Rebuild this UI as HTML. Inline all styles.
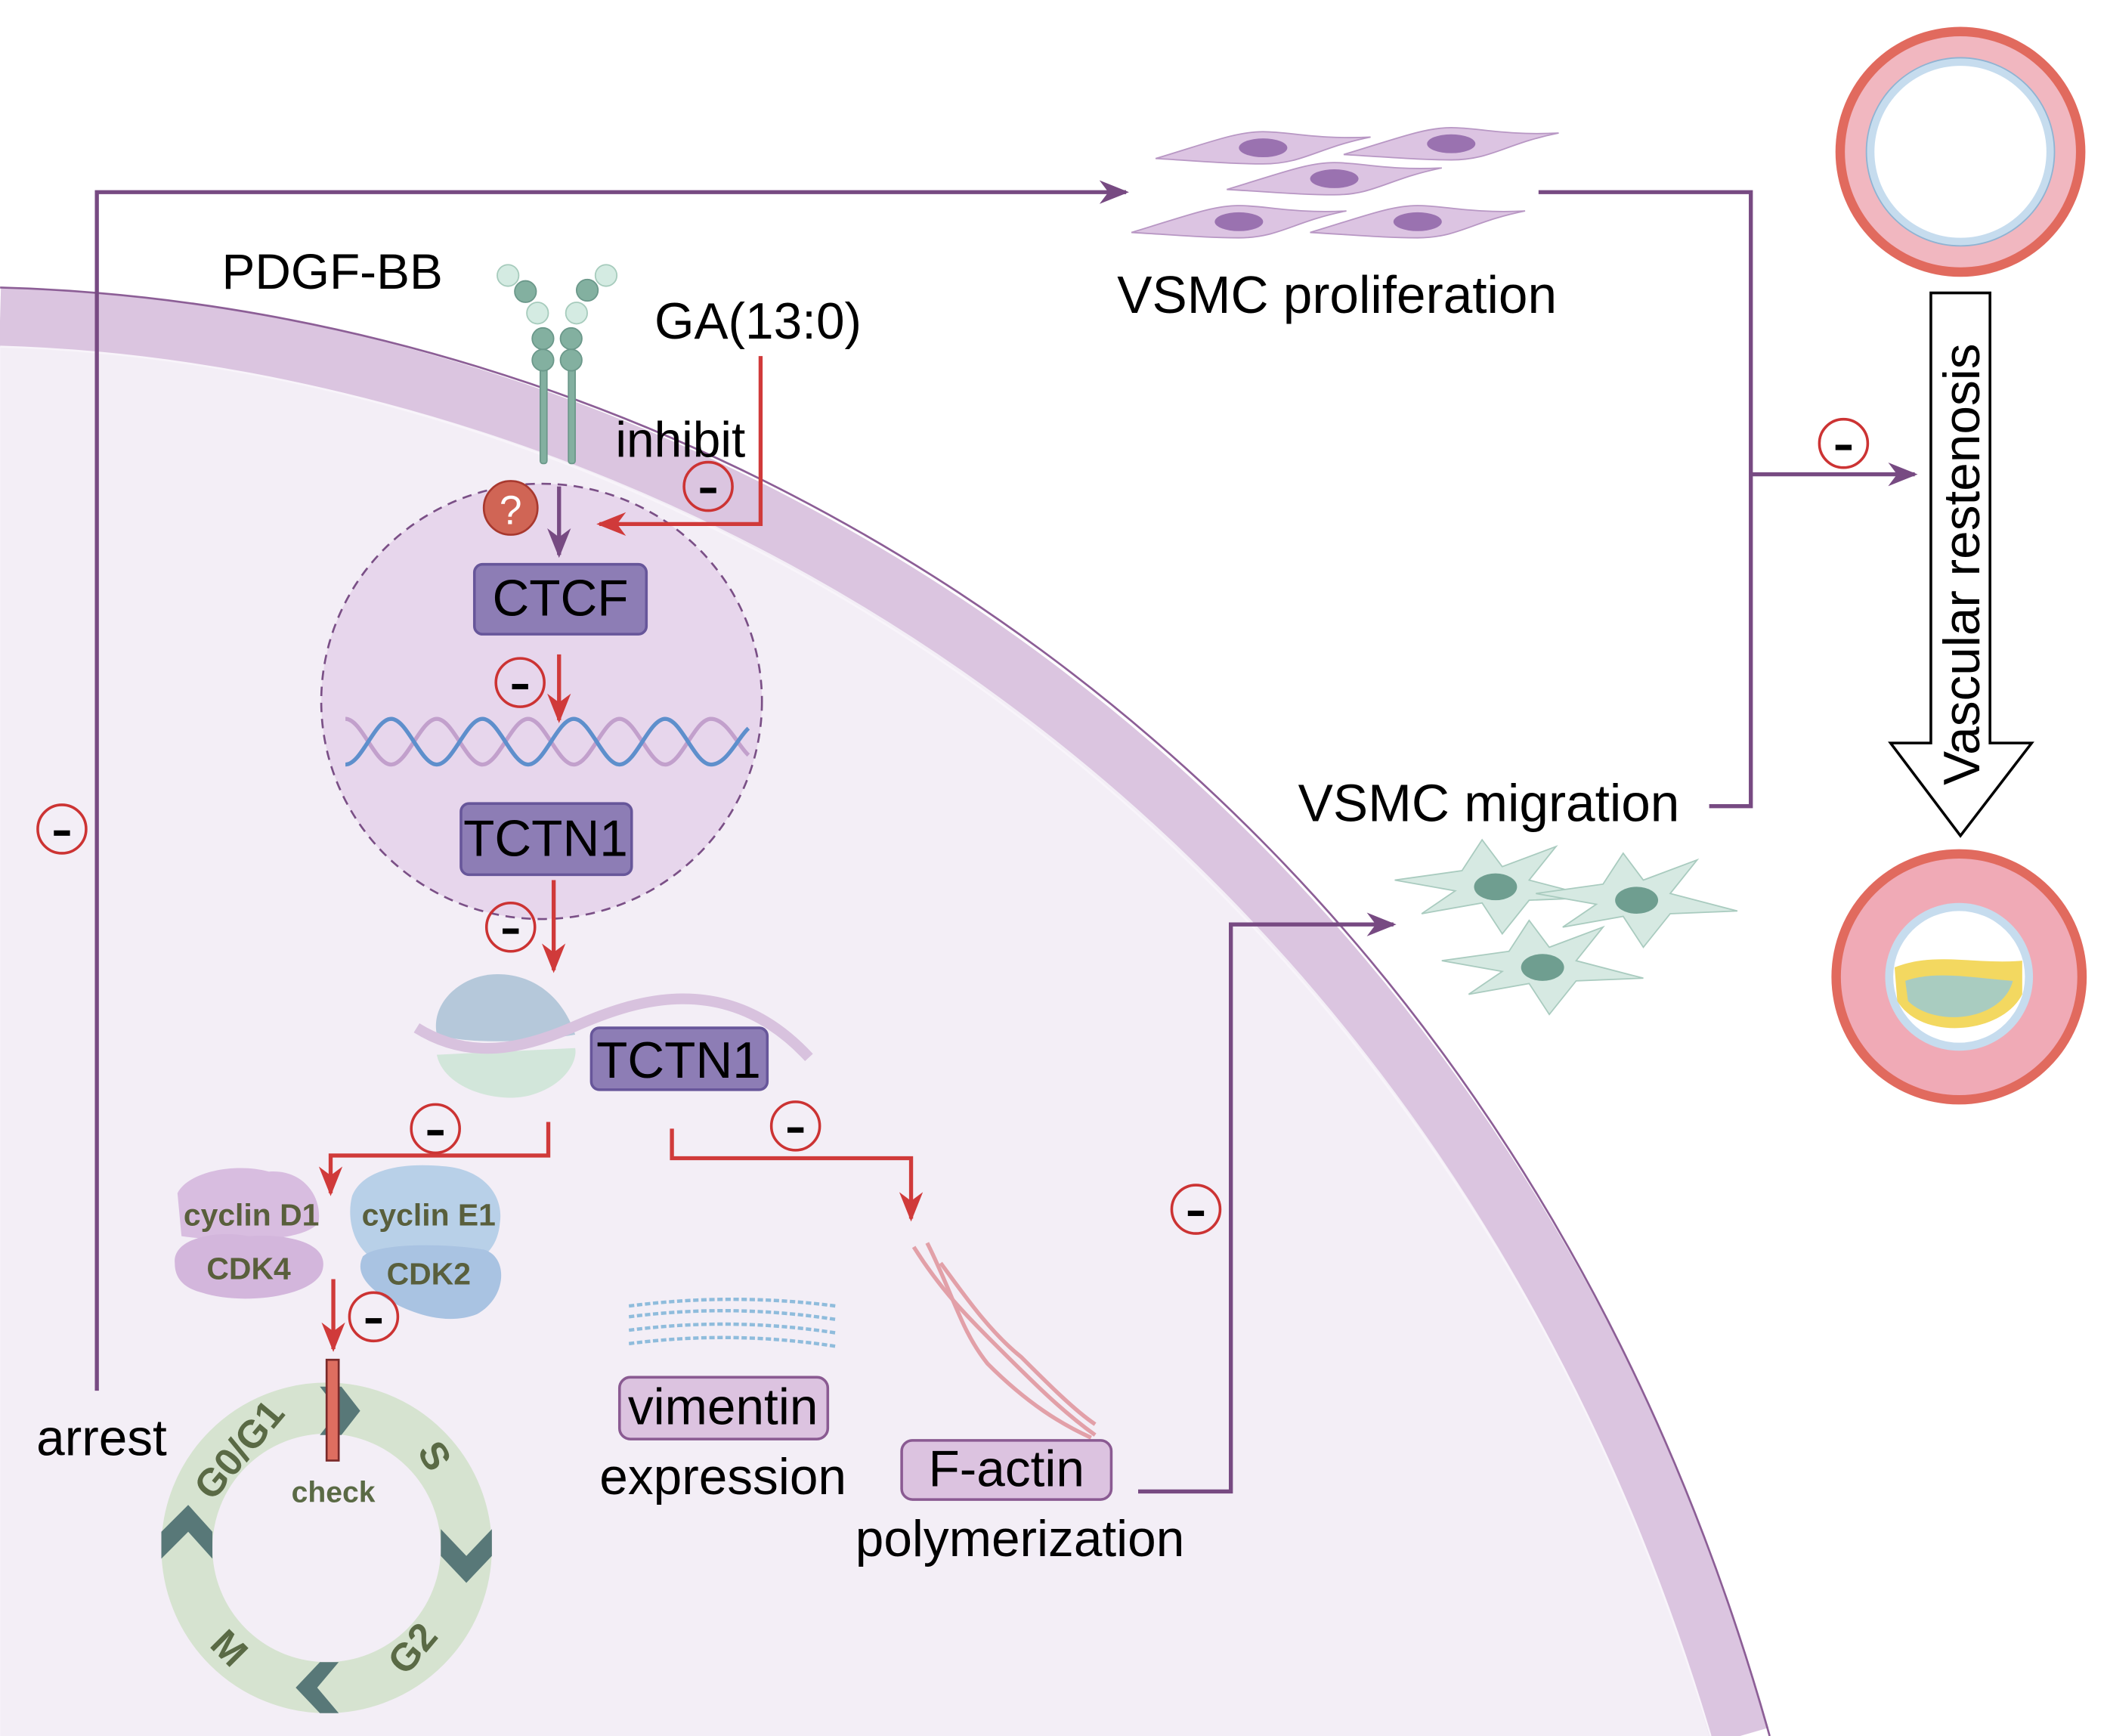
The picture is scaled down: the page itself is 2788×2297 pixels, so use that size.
<!DOCTYPE html>
<html><head><meta charset="utf-8"><style>
html,body{margin:0;padding:0;background:#fff}
svg{display:block}
text{font-family:"Liberation Sans",sans-serif}
</style></head><body>
<svg width="2788" height="2297" viewBox="0 0 1568 1292" xmlns="http://www.w3.org/2000/svg">
<defs>
<marker id="apb" viewBox="0 0 10 10" refX="9" refY="5" markerWidth="22" markerHeight="22" markerUnits="userSpaceOnUse" orient="auto"><path d="M0,1 L10,5 L0,9 L3,5 Z" fill="#774a82"/></marker>
<marker id="ar" viewBox="0 0 10 10" refX="9" refY="5" markerWidth="22" markerHeight="22" markerUnits="userSpaceOnUse" orient="auto"><path d="M0,1 L10,5 L0,9 L3,5 Z" fill="#d03a3a"/></marker>
<g id="mn"><circle r="18" fill="none" stroke="#cc3333" stroke-width="2"/><rect x="-6" y="1" width="12" height="4" fill="#000"/></g>
<g id="spindle"><path d="M-80,8 C-40,-4 -20,-12 0,-12 C20,-12 40,-6 80,-8 C40,0 30,12 0,12 C-25,12 -45,10 -80,8 Z" fill="#dcc4e2" stroke="#b897c4" stroke-width="1"/><ellipse cx="0" cy="0" rx="18" ry="7" fill="#9a72b0"/></g>
<g id="star"><path d="M-75,-5 L-25,-12 L-10,-35 L5,-15 L45,-30 L25,-5 L75,8 L25,10 L5,35 L-10,12 L-55,20 L-30,3 Z" fill="#d6e9e2" stroke="#a9cbbf" stroke-width="1"/><ellipse cx="0" cy="0" rx="16" ry="10" fill="#6f9e90"/></g>
</defs>
<rect width="1568" height="1292" fill="#fff"/>
<path d="M0,236 C500,250 1090,580 1295,1292 L0,1292 Z" fill="#f3eef6"/>
<path d="M0,236 C500,250 1090,580 1295,1292" fill="none" stroke="#dbc5e0" stroke-width="44"/>
<path d="M0,214 C515,228 1112,560 1317,1292" fill="none" stroke="#8c5e96" stroke-width="1.5"/>
<path d="M0,258 C485,272 1068,600 1273,1292" fill="none" stroke="#f8f4fa" stroke-width="1.5"/>

<polyline points="72,1035 72,143 838,143" fill="none" stroke="#774a82" stroke-width="3" marker-end="url(#apb)"/>
<text x="27" y="1083" font-size="38">arrest</text>
<use href="#mn" x="46" y="617"/>

<ellipse cx="403" cy="522" rx="164" ry="162" fill="#e7d6ec" stroke="#7a4f86" stroke-width="1.5" stroke-dasharray="7,5"/>

<text x="165" y="215" font-size="37">PDGF-BB</text>
<text x="487" y="252" font-size="38">GA(13:0)</text>
<text x="458" y="340" font-size="37">inhibit</text>

<g fill="#83b0a0" stroke="#6b988a" stroke-width="1">
<rect x="402" y="270" width="5" height="75" rx="2"/><rect x="423" y="270" width="5" height="75" rx="2"/>
<circle cx="404" cy="268" r="8"/><circle cx="404" cy="252" r="8"/><circle cx="425" cy="268" r="8"/><circle cx="425" cy="252" r="8"/>
<circle cx="391" cy="217" r="8"/><circle cx="437" cy="216" r="8"/>
</g>
<g fill="#d4ebe2" stroke="#a6cbbc" stroke-width="1">
<circle cx="400" cy="233" r="8"/><circle cx="429" cy="233" r="8"/><circle cx="378" cy="205" r="8"/><circle cx="451" cy="205" r="8"/>
</g>

<polyline points="566,265 566,390 446,390" fill="none" stroke="#d03a3a" stroke-width="3" marker-end="url(#ar)"/>
<use href="#mn" x="527" y="362"/>
<line x1="416" y1="362" x2="416" y2="413" stroke="#774a82" stroke-width="3" marker-end="url(#apb)"/>
<circle cx="380" cy="378" r="20" fill="#d06555" stroke="#a8382e" stroke-width="1.5"/>
<text x="380" y="390" font-size="30" fill="#fff" text-anchor="middle">?</text>

<rect x="353" y="420" width="128" height="52" rx="6" fill="#8d7db5" stroke="#67569a" stroke-width="2"/>
<text x="417" y="458" font-size="38" text-anchor="middle">CTCF</text>
<line x1="416" y1="487" x2="416" y2="536" stroke="#d03a3a" stroke-width="3" marker-end="url(#ar)"/>
<use href="#mn" x="387" y="508"/>

<g fill="none" stroke-width="3">
<path d="M257,535 C269,535 279,569 291,569 C303,569 313,535 325,535 C337,535 347,569 359,569 C371,569 381,535 393,535 C405,535 415,569 427,569 C439,569 449,535 461,535 C473,535 483,569 495,569 C507,569 517,535 529,535 C541,535 549,555 557,562" stroke="#c2a0cc"/>
<path d="M257,569 C269,569 279,535 291,535 C303,535 313,569 325,569 C337,569 347,535 359,535 C371,535 381,569 393,569 C405,569 415,535 427,535 C439,535 449,569 461,569 C473,569 483,535 495,535 C507,535 517,569 529,569 C541,569 549,549 557,542" stroke="#5e8fcc"/>
</g>
<rect x="343" y="598" width="127" height="53" rx="6" fill="#8d7db5" stroke="#67569a" stroke-width="2"/>
<text x="406" y="637" font-size="38" text-anchor="middle">TCTN1</text>
<line x1="412" y1="655" x2="412" y2="722" stroke="#d03a3a" stroke-width="3" marker-end="url(#ar)"/>
<use href="#mn" x="380" y="690"/>

<path d="M325,785 C330,810 370,822 395,815 C420,808 430,790 428,780 Z" fill="#d2e6da"/>
<path d="M325,770 C320,745 345,725 370,725 C400,725 420,745 428,770 C400,775 350,778 325,770 Z" fill="#b5c8da"/>
<path d="M310,765 C350,790 390,780 425,765 C470,745 540,720 602,787" fill="none" stroke="#d8c2de" stroke-width="8"/>
<rect x="440" y="765" width="131" height="46" rx="6" fill="#8d7db5" stroke="#67569a" stroke-width="2"/>
<text x="505" y="802" font-size="38" text-anchor="middle">TCTN1</text>

<polyline points="408,835 408,860 246,860 246,888" fill="none" stroke="#d03a3a" stroke-width="3" marker-end="url(#ar)"/>
<use href="#mn" x="324" y="840"/>
<polyline points="500,840 500,862 678,862 678,907" fill="none" stroke="#d03a3a" stroke-width="3" marker-end="url(#ar)"/>
<use href="#mn" x="592" y="838"/>

<path d="M132,888 C140,872 175,865 200,872 C225,870 240,890 237,910 C225,925 170,925 135,920 Z" fill="#d8bde0"/>
<path d="M130,940 C128,922 160,915 185,920 C215,918 245,925 240,945 C235,965 180,972 150,962 C135,958 130,950 130,940 Z" fill="#d3b6dc"/>
<path d="M262,890 C270,870 300,865 330,868 C360,870 375,890 372,910 C370,935 350,945 330,940 L275,935 C262,925 258,905 262,890 Z" fill="#b8d0e8"/>
<path d="M270,935 C280,925 330,925 360,930 C378,935 378,965 355,978 C330,988 300,975 285,965 C270,955 265,945 270,935 Z" fill="#a9c3e2"/>
<g font-size="23" font-weight="bold" fill="#595f3c" text-anchor="middle">
<text x="187" y="912">cyclin D1</text><text x="185" y="952">CDK4</text>
<text x="319" y="912">cyclin E1</text><text x="319" y="956">CDK2</text>
</g>
<line x1="248" y1="952" x2="248" y2="1004" stroke="#d03a3a" stroke-width="3" marker-end="url(#ar)"/>
<use href="#mn" x="278" y="980"/>

<circle cx="243" cy="1152" r="104" fill="none" stroke="#d6e3d0" stroke-width="38"/>
<g fill="#587878">
<path d="M238,1032 L254,1032 L268,1050 L254,1068 L238,1068 L252,1050 Z"/>
<path d="M328,1138 L347,1158 L366,1138 L366,1158 L347,1178 L328,1158 Z"/>
<path d="M120,1140 L140,1120 L158,1140 L158,1160 L140,1140 L120,1160 Z"/>
<path d="M238,1237 L252,1237 L236,1256 L252,1275 L238,1275 L220,1256 Z"/>
</g>
<rect x="243" y="1012" width="9" height="75" fill="#de6e60" stroke="#7a2a2a" stroke-width="1.5"/>
<g font-weight="bold" fill="#5a6a45">
<text x="248" y="1118" font-size="22" text-anchor="middle">check</text>
<text x="0" y="0" font-size="29" transform="translate(158,1118) rotate(-50)">G0/G1</text>
<text x="0" y="0" font-size="29" transform="translate(310,1080) rotate(60)">S</text>
<text x="0" y="0" font-size="29" transform="translate(302,1248) rotate(-50)">G2</text>
<text x="0" y="0" font-size="29" transform="translate(155,1225) rotate(45)">M</text>
</g>

<g fill="none" stroke="#8fbcdc" stroke-width="2.5" stroke-dasharray="4,2">
<path d="M468,972 Q545,962 622,972"/><path d="M468,980 Q545,970 622,982"/><path d="M468,990 Q545,980 622,992"/><path d="M468,1000 Q545,990 622,1002"/>
</g>
<rect x="461" y="1025" width="155" height="46" rx="8" fill="#dcc3e0" stroke="#8a5a92" stroke-width="2"/>
<text x="538" y="1060" font-size="38" text-anchor="middle">vimentin</text>
<text x="538" y="1112" font-size="38" text-anchor="middle">expression</text>

<g fill="none" stroke="#e2a0a8" stroke-width="3">
<path d="M680,928 C700,960 720,980 740,1000 C770,1030 790,1050 815,1068"/>
<path d="M690,925 C710,965 715,990 735,1015 C765,1045 790,1060 812,1070"/>
<path d="M700,940 C715,960 735,990 760,1010 C780,1030 800,1050 815,1060"/>
</g>
<rect x="671" y="1072" width="156" height="44" rx="8" fill="#dcc3e0" stroke="#8a5a92" stroke-width="2"/>
<text x="749" y="1106" font-size="38" text-anchor="middle">F-actin</text>
<text x="759" y="1158" font-size="38" text-anchor="middle">polymerization</text>

<polyline points="847,1110 916,1110 916,688 1037,688" fill="none" stroke="#774a82" stroke-width="3" marker-end="url(#apb)"/>
<use href="#mn" x="890" y="900"/>

<use href="#spindle" x="940" y="110"/><use href="#spindle" x="1080" y="107"/><use href="#spindle" x="993" y="133"/>
<use href="#spindle" x="922" y="165"/><use href="#spindle" x="1055" y="165"/>
<text x="995" y="233" font-size="39" text-anchor="middle">VSMC proliferation</text>
<use href="#star" x="1113" y="660"/><use href="#star" x="1218" y="670"/><use href="#star" x="1148" y="720"/>
<text x="1108" y="611" font-size="39" text-anchor="middle">VSMC migration</text>

<polyline points="1145,143 1303,143 1303,600 1272,600" fill="none" stroke="#774a82" stroke-width="3"/>
<line x1="1303" y1="353" x2="1425" y2="353" stroke="#774a82" stroke-width="3" marker-end="url(#apb)"/>
<use href="#mn" x="1372" y="330"/>

<circle cx="1459" cy="113" r="93" fill="#e16a5e"/>
<circle cx="1459" cy="113" r="86" fill="#f1b7c0"/>
<circle cx="1459" cy="113" r="70" fill="#c6dcee" stroke="#8fb3d2" stroke-width="1"/>
<circle cx="1459" cy="113" r="64" fill="#fff"/>
<circle cx="1458" cy="727" r="95" fill="#e16a5e"/>
<circle cx="1458" cy="727" r="88" fill="#f0aab6"/>
<circle cx="1458" cy="727" r="55" fill="#c6dcee"/>
<circle cx="1458" cy="727" r="49" fill="#fff"/>
<path d="M1410,720 C1440,708 1470,718 1505,715 L1505,740 C1490,770 1430,775 1412,745 Z" fill="#f3d860"/>
<path d="M1418,730 C1440,722 1470,728 1498,730 C1490,760 1440,765 1420,745 Z" fill="#a9ccc0"/>

<path d="M1437,218 L1481,218 L1481,553 L1512,553 L1459,622 L1407,553 L1437,553 Z" fill="#fff" stroke="#000" stroke-width="2"/>
<text x="0" y="0" font-size="38" text-anchor="middle" transform="translate(1473,420) rotate(-90)">Vascular restenosis</text>
</svg>
</body></html>
